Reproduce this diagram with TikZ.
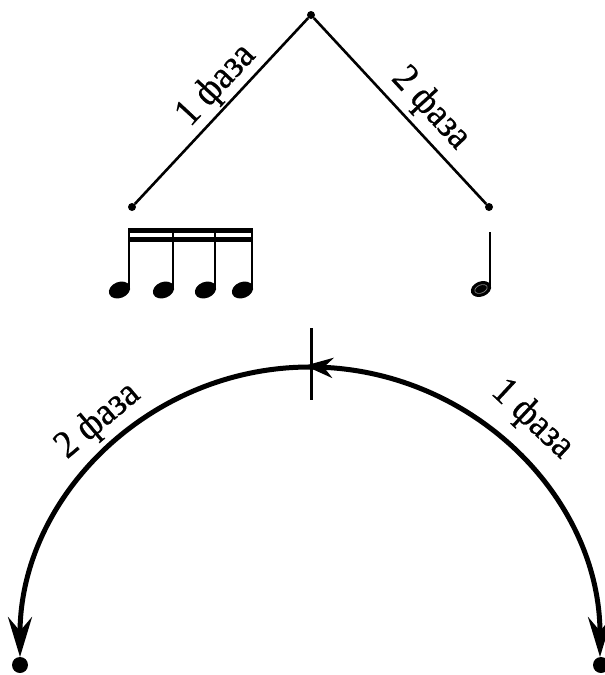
\documentclass[tikz,border=0pt]{standalone}
\usepackage{fontspec}
\setmainfont{Liberation Serif}
\newfontfamily\phasefont[FakeStretch=0.93,FakeBold=0.6]{Liberation Serif}
\usetikzlibrary{arrows.meta,decorations.markings}
\tikzset{
  knot/.style={circle,fill=black,inner sep=0pt,minimum size=#1},
  knot/.default=8pt,
  phase/.style={font=\phasefont\fontsize{39}{43}\selectfont,inner sep=2pt},
  bigtip/.style={-{Stealth[length=40pt,width=24pt,inset=14pt]}},
}

\begin{document}
\begin{tikzpicture}[x=1pt,y=1pt]
\useasboundingbox (0,0) rectangle (605,-675);
% upper scheme
\node[knot] (apex) at (311,-15) {};
\node[knot] (lt) at (132,-207) {};
\node[knot] (rt) at (489,-207) {};
\draw[line width=2.6pt] (lt) -- node[phase,sloped,above,pos=0.56] {1 фаза} (apex);
\draw[line width=2.6pt] (apex) -- node[phase,sloped,above,pos=0.575,yshift=3pt] {2 фаза} (rt);
% sixteenth notes
\foreach \s in {129,173,215,252}{
  \fill[shift={(\s-9.5,-290)},rotate=22] (0,0) ellipse [x radius=11,y radius=8];
  \draw[line width=2.6pt] (\s,-229) -- (\s,-288);
}
\fill (127.7,-227.5) rectangle (253.3,-232.8);
\fill (127.7,-236.5) rectangle (253.3,-241.8);
% quarter note
\fill[shift={(481,-289)},rotate=22] (0,0) ellipse [x radius=10.5,y radius=7.5];
\draw[gray,line width=0.7pt,shift={(481,-289)},rotate=22] (0,0) ellipse [x radius=6.5,y radius=4];
\draw[line width=2.2pt] (490,-232) -- (490,-288);
% lower scheme
\coordinate (c) at (310,-657);
\coordinate (top) at (310,-367);
\coordinate (tk1) at (311,-328);
\coordinate (tk2) at (311,-400);
\draw[line width=5pt,bigtip] (top) arc[start angle=90,end angle=180,radius=290];
\draw[line width=5pt,bigtip,
  postaction={decorate},
  decoration={markings,mark=at position 0.05 with {\arrow{Stealth[reversed,length=28pt,width=20pt,inset=9pt]}}}]
  (top) arc[start angle=90,end angle=0,radius=290];
\draw[line width=3pt] (tk1) -- (tk2);
\node[knot=16pt] (ldot) at (20,-665) {};
\node[knot=16pt] (rdot) at (601,-665) {};
\node[phase,rotate=40] (ph2) at ([shift={(131.9:317)}]c) {2 фаза};
\node[phase,rotate=-43] (ph1) at ([shift={(46.9:325)}]c) {1 фаза};
\end{tikzpicture}
\end{document}
